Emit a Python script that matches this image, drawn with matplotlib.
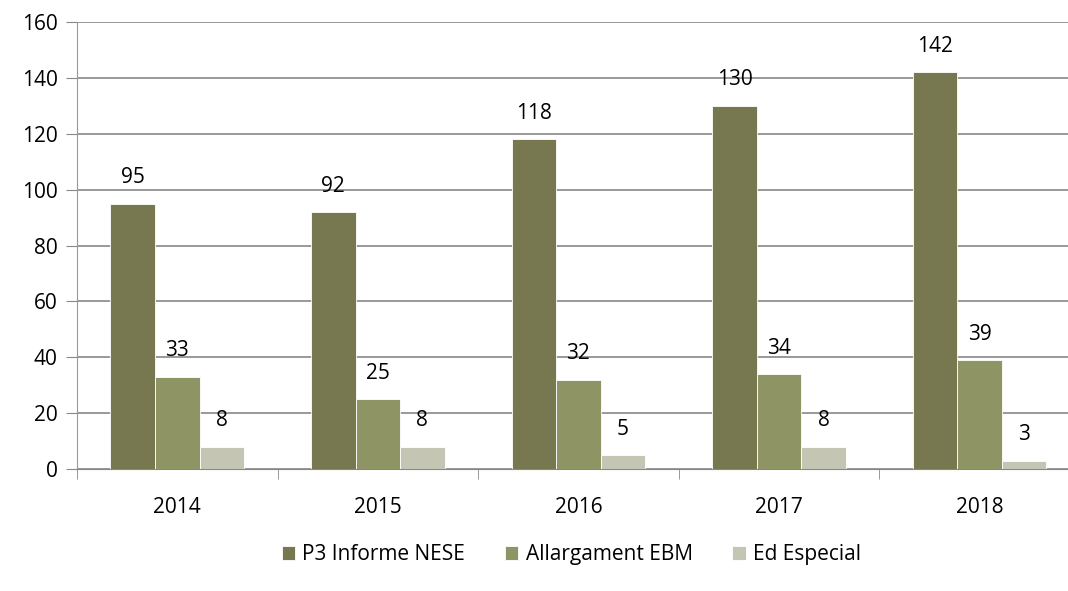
import matplotlib
matplotlib.use("Agg")
import matplotlib.pyplot as plt
import numpy as np

plt.rcParams['font.family'] = ['Open Sans', 'DejaVu Sans']

years = ['2014', '2015', '2016', '2017', '2018']
nese = [95, 92, 118, 130, 142]
ebm = [33, 25, 32, 34, 39]
especial = [8, 8, 5, 8, 3]
labels = ['P3 Informe NESE', 'Allargament EBM', 'Ed Especial']
colors = ['#777850', '#8f9465', '#c4c6b3']

fig = plt.figure(figsize=(10.68, 5.91), dpi=100)
# the original chart runs slightly past the right image edge
ax = fig.add_axes([0.0721, 0.2064, 0.939, 0.7564])

x = np.arange(len(years))
w = 0.222
series = [nese, ebm, especial]
for i, vals in enumerate(series):
    pos = x + (i - 1) * w
    ax.bar(pos, vals, w, color=colors[i], label=labels[i],
           edgecolor='white', linewidth=0.6, zorder=3)
    for p, v in zip(pos, vals):
        ax.text(p, v + 5.5, str(v), ha='center', va='bottom', fontsize=15)

ax.set_xlim(-0.5, len(years) - 0.5)
ax.set_ylim(0, 160)
ax.set_yticks(range(0, 161, 20))
ax.set_xticks(x)
ax.set_xticklabels(years)
ax.set_xticks(np.arange(-0.5, len(years)), minor=True)
ax.tick_params(axis='x', which='major', length=0, pad=20, labelsize=15)
ax.tick_params(axis='x', which='minor', length=7, color='#878787', direction='out')
ax.tick_params(axis='y', length=8, color='#878787', labelsize=15, pad=6)
ax.yaxis.grid(True, color='#878787', linewidth=1.2, zorder=0)
for s in ['top', 'right']:
    ax.spines[s].set_visible(False)
ax.spines['left'].set_color('#999999')
ax.spines['bottom'].set_color('#878787')

fig.legend(loc='center', bbox_to_anchor=(0.535, 0.061), ncol=3, frameon=False,
           fontsize=15, handlelength=0.65, handleheight=0.65, handletextpad=0.35,
           columnspacing=1.9)

fig.savefig('out.png', dpi=100)
